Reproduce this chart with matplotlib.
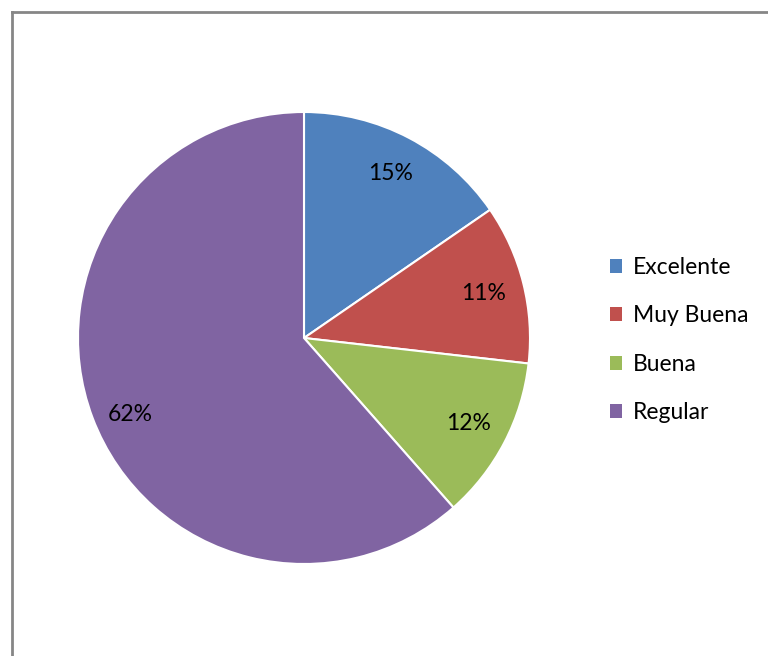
import matplotlib
matplotlib.use("Agg")
import matplotlib.pyplot as plt
from matplotlib.lines import Line2D
from matplotlib.patches import Patch
import numpy as np

# data
labels = ["Excelente", "Muy Buena", "Buena", "Regular"]
shares = [15.4, 11.4, 11.7, 61.5]
colors = ["#4F81BD", "#C0504D", "#9BBB59", "#8064A2"]

plt.rcParams["font.family"] = ["Lato", "DejaVu Sans"]

fig = plt.figure(figsize=(7.68, 6.56), dpi=100)

# chart frame (only top/left visible in the crop)
fig.add_artist(Line2D([12 / 768, 12 / 768], [0, 1 - 12 / 656], transform=fig.transFigure,
                      color="#868686", lw=2))
fig.add_artist(Line2D([12 / 768, 1], [1 - 12 / 656, 1 - 12 / 656], transform=fig.transFigure,
                      color="#868686", lw=2))

ax = fig.add_axes([78 / 768, (656 - 564) / 656, 452 / 768, 452 / 656])
wedges, texts, autotexts = ax.pie(
    shares, colors=colors, startangle=90, counterclock=False,
    autopct="%.0f%%", pctdistance=0.82,
    wedgeprops=dict(edgecolor="white", linewidth=1.5),
    textprops=dict(fontsize=16.5, color="black"),
)
# Regular label sits in the lower-left part of its slice
ang = np.deg2rad(203.7)
autotexts[3].set_position((0.84 * np.cos(ang), 0.84 * np.sin(ang)))

ax.set_xlim(-1.0, 1.0)
ax.set_ylim(-1.0, 1.0)
ax.set_aspect("equal")
ax.axis("off")

handles = [Patch(facecolor=c, edgecolor="none") for c in colors]
fig.legend(handles, labels, loc="center left", bbox_to_anchor=(589 / 768, 1 - 340 / 656),
           frameon=False, fontsize=16.5, handlelength=0.55, handleheight=0.55,
           handletextpad=0.45, labelspacing=1.2)

fig.savefig("out.png", dpi=100, facecolor="white")
